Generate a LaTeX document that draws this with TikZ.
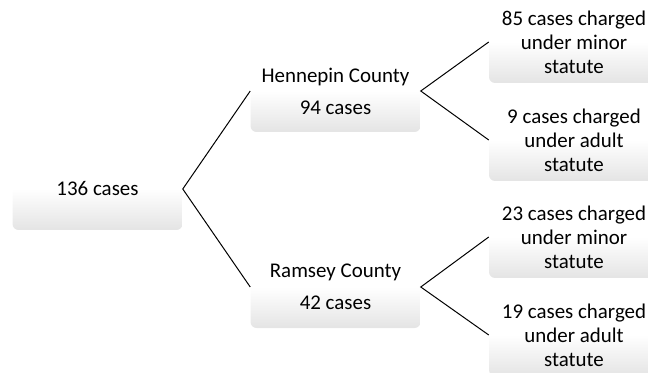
\documentclass[tikz,border=0pt]{standalone}
\usepackage{fontspec}
\setmainfont{Carlito}
\definecolor{boxgray}{RGB}{228,228,228}
\definecolor{ink}{RGB}{0,0,0}

\begin{document}
\begin{tikzpicture}[
  x=0.75pt, y=-0.75pt,
  casebox/.style={
    rounded corners=4.5pt, minimum width=127.5pt, minimum height=61.5pt,
    shading=axis, top color=white, bottom color=boxgray, middle color=white,
    font=\fontsize{15.7}{18}\selectfont, text=ink, align=center
  },
  branch/.style={draw=black, line width=0.75pt}
]
\useasboundingbox (0,0) rectangle (648,373);
\clip (0,0) rectangle (648,373);

% Total.
\node[casebox] (total) at (97.5,189) {136 cases};

% Counties.
\node[casebox] (hennepin) at (335.5,91)
  {Hennepin County\\[6pt]94 cases};
\node[casebox] (ramsey) at (335.5,287)
  {Ramsey County\\[6pt]42 cases};

% Statutes charged.
\node[casebox] (hminor) at (574,42)
  {85 cases charged\\under minor\\statute};
\node[casebox] (hadult) at (574,140)
  {9 cases charged\\under adult\\statute};
\node[casebox] (rminor) at (574,237)
  {23 cases charged\\under minor\\statute};
\node[casebox] (radult) at (574,335)
  {19 cases charged\\under adult\\statute};

% Branch lines.
\draw[branch] (hennepin.west) -- (total.east) -- (ramsey.west);
\draw[branch] (hminor.west) -- (hennepin.east) -- (hadult.west);
\draw[branch] (rminor.west) -- (ramsey.east) -- (radult.west);

\end{tikzpicture}
\end{document}
